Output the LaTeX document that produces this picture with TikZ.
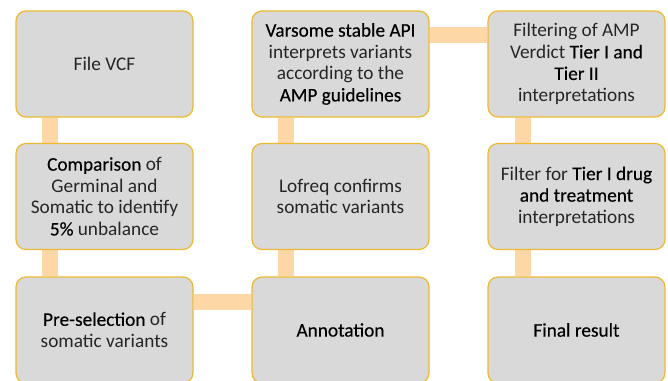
\documentclass[tikz,border=0pt]{standalone}
\usepackage{fontspec}
\setmainfont{Carlito}
\newfontfamily\strongfont[FakeBold=0.3]{Carlito}
\usepackage{tikz}
\usetikzlibrary{backgrounds}

\definecolor{boxfill}{HTML}{D9D9D9}
\definecolor{boxline}{HTML}{EDB932}
\definecolor{linkcol}{HTML}{FDD8A6}
\definecolor{textcol}{HTML}{262626}
\newcommand{\hi}[1]{{\strongfont\color{black}#1}}

\begin{document}
\begin{tikzpicture}[x=1pt, y=1pt,
  every node/.style={rectangle, rounded corners=10pt, draw=boxline, line width=1.2pt, fill=boxfill,
    minimum width=177pt, minimum height=106pt, inner sep=0pt, align=center,
    text=textcol, font=\fontsize{19.3}{21.6}\selectfont},
  link/.style={linkcol, line width=16pt}]
  \useasboundingbox (0,0) rectangle (668,-380);
  \clip (0,0) rectangle (668,-380);
  \node (vcf) at (104.5,-64) {File VCF};
  \node (cmp) at (104.5,-196.5) {\hi{Comparison} of\\Germinal and\\Somatic to identify\\\hi{5\%} unbalance};
  \node (pre) at (104.5,-330) {\hi{Pre-selection} of\\somatic variants};
  \node (var) at (340.5,-64) {\hi{Varsome stable API}\\interprets variants\\according to the\\\hi{AMP guidelines}};
  \node (lof) at (340.5,-196.5) {Lofreq confirms\\somatic variants};
  \node (ann) at (340.5,-330) {\hi{Annotation}};
  \node (flt) at (576.5,-64) {Filtering of AMP\\Verdict \hi{Tier I and}\\\hi{Tier II}\\interpretations};
  \node (drg) at (576.5,-196.5) {Filter for \hi{Tier I drug}\\\hi{and treatment}\\interpretations};
  \node (fin) at (576.5,-330) {\hi{Final result}};
  % the links sit behind the boxes
  \begin{scope}[on background layer]
    \draw[link] ([xshift=35]vcf.south west) -- ([xshift=35]cmp.north west);
    \draw[link] ([xshift=35]cmp.south west) -- ([xshift=35]pre.north west);
    \draw[link] ([yshift=-26]pre.north east) -- ([yshift=-26]ann.north west);
    \draw[link] ([xshift=35]ann.north west) -- ([xshift=35]lof.south west);
    \draw[link] ([xshift=35]lof.north west) -- ([xshift=35]var.south west);
    \draw[link] ([yshift=-25]var.north east) -- ([yshift=-25]flt.north west);
    \draw[link] ([xshift=36]flt.south west) -- ([xshift=36]drg.north west);
    \draw[link] ([xshift=36]drg.south west) -- ([xshift=36]fin.north west);
  \end{scope}
\end{tikzpicture}
\end{document}
